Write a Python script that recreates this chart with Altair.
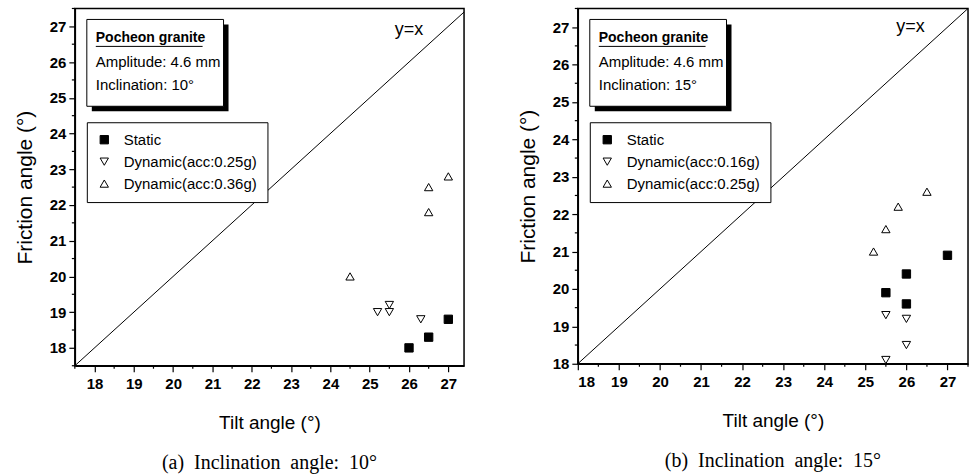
import altair as alt
import pandas as pd

# (a) inclination 10°
a_static_x = [26.0, 26.5, 27.0]
a_static_y = [18.0, 18.3, 18.8]
a_dyn1_x = [25.2, 25.5, 25.5, 26.3]
a_dyn1_y = [19.0, 19.2, 19.0, 18.8]
a_dyn2_x = [24.5, 26.5, 26.5, 27.0]
a_dyn2_y = [20.0, 22.5, 21.8, 22.8]
a_labels = ["Static", "Dynamic(acc:0.25g)", "Dynamic(acc:0.36g)"]

# (b) inclination 15°
b_static_x = [25.5, 26.0, 26.0, 27.0]
b_static_y = [19.9, 20.4, 19.6, 20.9]
b_dyn1_x = [25.5, 25.5, 26.0, 26.0]
b_dyn1_y = [19.3, 18.1, 19.2, 18.5]
b_dyn2_x = [25.2, 25.5, 25.8, 26.5]
b_dyn2_y = [21.0, 21.6, 22.2, 22.6]
b_labels = ["Static", "Dynamic(acc:0.16g)", "Dynamic(acc:0.25g)"]

SANS = "Liberation Sans"
SERIF = "Liberation Serif"


def whole_steps(lo, hi):
    start = int(lo) if lo == int(lo) else int(lo) + 1
    return [float(v) for v in range(start, int(hi) + 1)]


def half_steps(lo, hi):
    return [v + 0.5 for v in range(int(lo) - 1, int(hi) + 1) if lo <= v + 0.5 <= hi]


def axis(title, lo, hi, title_pad, label_pad):
    return alt.Axis(
        title=title,
        values=whole_steps(lo, hi),
        format="d",
        labelOverlap=False,
        tickSize=6,
        tickWidth=1.2,
        labelFont=SANS,
        labelFontSize=15,
        labelFontWeight="bold",
        labelPadding=label_pad,
        titlePadding=title_pad,
        grid=False,
    )


def panel(sx, sy, d1x, d1y, d2x, d2y, labels, xdom, ydom, w, h, inc, caption, yx_at):
    df = pd.DataFrame({
        "tilt": sx + d1x + d2x,
        "friction": sy + d1y + d2y,
        "series": [labels[0]] * len(sx) + [labels[1]] * len(d1x) + [labels[2]] * len(d2x),
    })
    xs = alt.Scale(domain=xdom, nice=False, zero=False)
    ys = alt.Scale(domain=ydom, nice=False, zero=False)
    xa = axis("Tilt angle (°)", xdom[0], xdom[1], 22, 5)
    ya = axis("Friction angle (°)", ydom[0], ydom[1], 14, 3)

    legend = alt.Legend(
        title=None, orient="none", legendX=12, legendY=114,
        strokeColor="black", fillColor="white", padding=10,
        labelFont=SANS, labelFontSize=15, labelColor="black",
        symbolSize=70, symbolStrokeWidth=1,
        rowPadding=6, labelOffset=12,
    )

    pts = alt.Chart(df).mark_point(filled=True, strokeWidth=1, opacity=1, size=70).encode(
        x=alt.X("tilt:Q", scale=xs, axis=xa),
        y=alt.Y("friction:Q", scale=ys, axis=ya),
        shape=alt.Shape("series:N", scale=alt.Scale(domain=labels, range=["square", "triangle-down", "triangle-up"]), legend=legend),
        fill=alt.Fill("series:N", scale=alt.Scale(domain=labels, range=["black", "white", "white"]), legend=legend),
        stroke=alt.Stroke("series:N", scale=alt.Scale(domain=labels, range=["black", "black", "black"]), legend=legend),
    )

    # short minor ticks at the half-degree positions
    minor_x = alt.Chart(pd.DataFrame({"m": half_steps(*xdom)})).mark_rule(color="black", strokeWidth=1.2).encode(
        x=alt.X("m:Q", scale=xs, axis=xa), y=alt.value(h), y2=alt.value(h + 3)
    )
    minor_y = alt.Chart(pd.DataFrame({"m": half_steps(*ydom)})).mark_rule(color="black", strokeWidth=1.2).encode(
        y=alt.Y("m:Q", scale=ys, axis=ya), x=alt.value(0), x2=alt.value(-3)
    )

    # y = x reference line, clipped to the plotting area
    lo = min(xdom[0], ydom[0])
    hi = max(xdom[1], ydom[1])
    diag = alt.Chart(pd.DataFrame({"v": [lo, hi]})).mark_line(color="black", strokeWidth=1, clip=True).encode(
        x=alt.X("v:Q", scale=xs, axis=xa), y=alt.Y("v:Q", scale=ys, axis=ya)
    )
    yx = alt.Chart(pd.DataFrame({"t": ["y=x"], "px": [yx_at[0]], "py": [yx_at[1]]})).mark_text(
        font=SANS, fontSize=18, color="black"
    ).encode(
        x=alt.X("px:Q", scale=xs, axis=xa), y=alt.Y("py:Q", scale=ys, axis=ya), text="t:N"
    )

    # sample description box with drop shadow
    one = pd.DataFrame({"k": [0]})
    shadow = alt.Chart(one).mark_rect(fill="black").encode(
        x=alt.value(17), x2=alt.value(154), y=alt.value(16), y2=alt.value(103)
    )
    box = alt.Chart(one).mark_rect(fill="white", stroke="black", strokeWidth=1).encode(
        x=alt.value(12), x2=alt.value(149), y=alt.value(11), y2=alt.value(98)
    )
    t1 = alt.Chart(one).mark_text(font=SANS, fontSize=14, fontWeight="bold", align="left", color="black").encode(
        x=alt.value(21), y=alt.value(30), text=alt.value("Pocheon granite")
    )
    uline = alt.Chart(one).mark_rule(color="black", strokeWidth=1).encode(
        x=alt.value(21), x2=alt.value(128), y=alt.value(38)
    )
    t2 = alt.Chart(one).mark_text(font=SANS, fontSize=15, align="left", color="black").encode(
        x=alt.value(21), y=alt.value(54), text=alt.value("Amplitude: 4.6 mm")
    )
    t3 = alt.Chart(one).mark_text(font=SANS, fontSize=15, align="left", color="black").encode(
        x=alt.value(21), y=alt.value(77), text=alt.value(f"Inclination: {inc}°")
    )

    return alt.layer(pts, minor_x, minor_y, diag, yx, shadow, box, t1, uline, t2, t3).properties(
        width=w, height=h,
        title=alt.TitleParams(caption, orient="bottom", font=SERIF, fontSize=20,
                              fontWeight="normal", color="black", offset=20),
    )


nb = "\u00a0"
pa = panel(a_static_x, a_static_y, a_dyn1_x, a_dyn1_y, a_dyn2_x, a_dyn2_y, a_labels,
           [17.5, 27.4], [17.5, 27.5], 390, 358, 10,
           f"(a){nb}{nb}Inclination{nb}{nb}angle:{nb}{nb}10°", (26.0, 26.9))
pb = panel(b_static_x, b_static_y, b_dyn1_x, b_dyn1_y, b_dyn2_x, b_dyn2_y, b_labels,
           [18.0, 27.5], [18.0, 27.5], 391, 356, 15,
           f"(b){nb}{nb}Inclination{nb}{nb}angle:{nb}{nb}15°", (26.1, 27.0))

chart = alt.hconcat(pa, pb, spacing=51).resolve_scale(
    x="independent", y="independent", shape="independent", fill="independent", stroke="independent"
).properties(
    padding={"left": 13, "top": 6, "right": 5, "bottom": 5},
    background="white",
).configure_view(
    stroke="black", strokeWidth=1.5
).configure_axis(
    domainColor="black", domainWidth=1.5, tickColor="black", labelColor="black",
    titleColor="black", titleFont=SANS, titleFontSize=21, titleFontWeight="normal",
).configure_axisX(
    titleFontSize=19,
)

chart.save("out.html", embed_options={"renderer": "svg", "actions": False})
